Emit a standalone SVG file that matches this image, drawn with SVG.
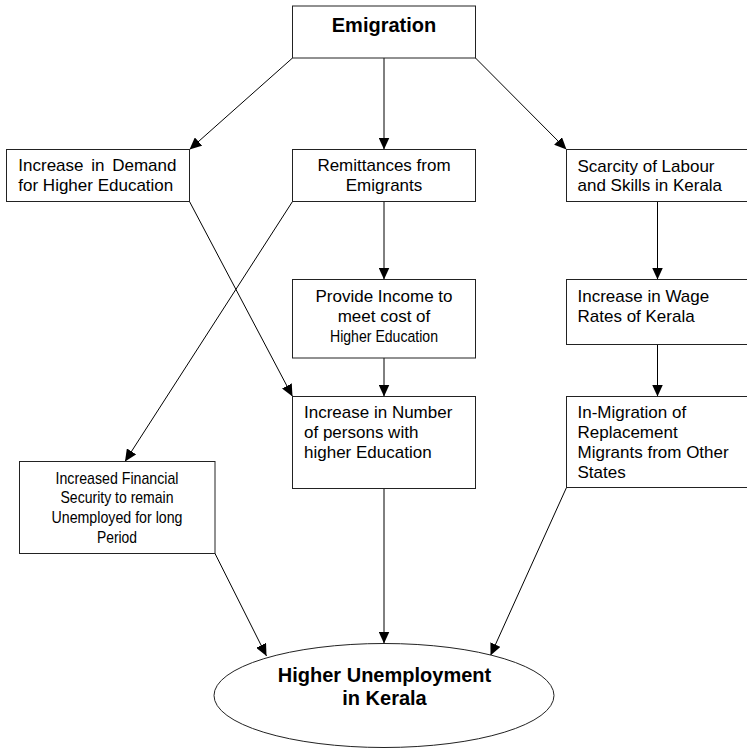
<svg xmlns="http://www.w3.org/2000/svg" width="747" height="748" viewBox="0 0 747 748">
<defs>
<marker id="ah" markerUnits="userSpaceOnUse" markerWidth="12" markerHeight="11" refX="12" refY="5.5" orient="auto">
<path d="M0,0 L12,5.5 L0,11 z" fill="#000"/>
</marker>
<style>
.box{fill:#fff;stroke:#222;stroke-width:1}
.t{font-family:"Liberation Sans",Arial,sans-serif;font-size:17px;fill:#000}
.b{font-family:"Liberation Sans",Arial,sans-serif;font-size:20px;font-weight:bold;fill:#000}
.c{text-anchor:middle}
.ln{stroke:#000;stroke-width:1;fill:none;marker-end:url(#ah)}
</style>
</defs>
<rect width="747" height="748" fill="#fff"/>
<g id="connectors">
<line class="ln" x1="292.5" y1="58" x2="189.5" y2="149.5"/>
<line class="ln" x1="384" y1="58" x2="384" y2="149.5"/>
<line class="ln" x1="475.5" y1="58" x2="566.5" y2="149.5"/>
<line class="ln" x1="384" y1="201.5" x2="384" y2="279.5"/>
<line class="ln" x1="657.5" y1="201.5" x2="657.5" y2="279.5"/>
<line class="ln" x1="657.5" y1="344.5" x2="657.5" y2="396.5"/>
<line class="ln" x1="384" y1="358" x2="384" y2="396.5"/>
<line class="ln" x1="189.5" y1="201.5" x2="292.5" y2="396.5"/>
<line class="ln" x1="292.5" y1="201.5" x2="125" y2="461.5"/>
<line class="ln" x1="215" y1="553.5" x2="266.5" y2="656"/>
<line class="ln" x1="384" y1="488.5" x2="384" y2="643.5"/>
<line class="ln" x1="566.5" y1="487.5" x2="490.5" y2="655.5"/>
</g>
<g id="emigration">
<rect class="box" x="292.5" y="6" width="183" height="52"/>
<text class="b c" x="384" y="32.3">Emigration</text>
</g>
<g id="demand">
<rect class="box" x="6.5" y="149.5" width="183" height="52"/>
<text class="t" x="18.3" y="171" word-spacing="3">Increase in Demand</text>
<text class="t" x="18.3" y="190.5">for Higher Education</text>
</g>
<g id="remittances">
<rect class="box" x="292.5" y="149.5" width="183" height="52"/>
<text class="t c" x="384" y="171">Remittances from</text>
<text class="t c" x="384" y="191">Emigrants</text>
</g>
<g id="scarcity">
<rect class="box" x="566.5" y="149.5" width="183" height="52"/>
<text class="t" x="577.5" y="171.5">Scarcity of Labour</text>
<text class="t" x="577.5" y="191">and Skills in Kerala</text>
</g>
<g id="provide">
<rect class="box" x="292.5" y="279.5" width="183" height="78.5"/>
<text class="t c" x="384" y="301.7">Provide Income to</text>
<text class="t c" x="384" y="321.7">meet cost of</text>
<text class="t c" x="384" y="341.7" textLength="108" lengthAdjust="spacingAndGlyphs">Higher Education</text>
</g>
<g id="wage">
<rect class="box" x="566.5" y="279.5" width="183" height="65"/>
<text class="t" x="577.5" y="301.7">Increase in Wage</text>
<text class="t" x="577.5" y="321.7">Rates of Kerala</text>
</g>
<g id="number">
<rect class="box" x="292.5" y="396.5" width="183" height="92"/>
<text class="t" x="304" y="418.3">Increase in Number</text>
<text class="t" x="304" y="438.3">of persons with</text>
<text class="t" x="304" y="458.3">higher Education</text>
</g>
<g id="inmigration">
<rect class="box" x="566.5" y="396.5" width="183" height="91"/>
<text class="t" x="577.5" y="418.3">In-Migration of</text>
<text class="t" x="577.5" y="438.3">Replacement</text>
<text class="t" x="577.5" y="458.3">Migrants from Other</text>
<text class="t" x="577.5" y="478.3">States</text>
</g>
<g id="financial">
<rect class="box" x="19.5" y="461.5" width="195.5" height="92"/>
<text class="t c" x="117" y="484" textLength="123" lengthAdjust="spacingAndGlyphs">Increased Financial</text>
<text class="t c" x="117" y="503.3" textLength="113" lengthAdjust="spacingAndGlyphs">Security to remain</text>
<text class="t c" x="117" y="523.3" textLength="131" lengthAdjust="spacingAndGlyphs">Unemployed for long</text>
<text class="t c" x="117" y="542.7" textLength="40" lengthAdjust="spacingAndGlyphs">Period</text>
</g>
<g id="unemployment">
<ellipse class="box" cx="384" cy="695.5" rx="170" ry="52"/>
<text class="b c" x="384.5" y="681.7">Higher Unemployment</text>
<text class="b c" x="384.5" y="705">in Kerala</text>
</g>
</svg>
